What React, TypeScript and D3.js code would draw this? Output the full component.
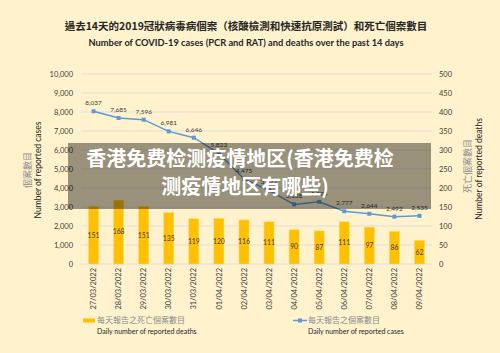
import { useEffect, useRef } from 'react';
import * as d3 from 'd3';

const dates = [
  '27/03/2022', '28/03/2022', '29/03/2022', '30/03/2022', '31/03/2022', '01/04/2022', '02/04/2022',
  '03/04/2022', '04/04/2022', '05/04/2022', '06/04/2022', '07/04/2022', '08/04/2022', '09/04/2022',
];
const cases = [8037, 7685, 7596, 6981, 6646, 5823, 4475, 3877, 3138, 3274, 2777, 2644, 2492, 2535];
const deaths = [151, 168, 151, 135, 119, 120, 116, 111, 90, 87, 111, 97, 86, 62];
const leftTicks = d3.range(0, 10001, 1000);
const rightTicks = d3.range(0, 501, 50);

const FONT = "Lato, 'Noto Sans CJK TC', sans-serif";
const CJK = "'Noto Sans CJK TC', sans-serif";

export default function App() {
  const svgRef = useRef<SVGSVGElement>(null);

  useEffect(() => {
    if (!svgRef.current) return;
    const width = 500;
    const height = 353;
    const svg = d3.select(svgRef.current);
    svg.selectAll('*').remove();
    svg.attr('width', width).attr('height', height).attr('viewBox', `0 0 ${width} ${height}`);

    svg.append('rect').attr('width', width).attr('height', height).attr('fill', '#FFF2CC');

    const x = d3.scaleBand<string>().domain(dates).range([81, 432]).paddingInner(0.6).paddingOuter(0.3);
    const yL = d3.scaleLinear().domain([0, 10000]).range([264, 74]);
    const yR = d3.scaleLinear().domain([0, 500]).range([264, 74]);
    const cx = (d: string) => (x(d) ?? 0) + x.bandwidth() / 2;

    // titles
    svg.append('text').attr('x', 246).attr('y', 30).attr('text-anchor', 'middle')
      .style('font-family', CJK).style('font-size', '10.5px').style('font-weight', 'bold').attr('fill', '#262626')
      .text('過去14天的2019冠狀病毒病個案（核酸檢測和快速抗原測試）和死亡個案數目');
    svg.append('text').attr('x', 246).attr('y', 46).attr('text-anchor', 'middle')
      .style('font-family', FONT).style('font-size', '9.3px').style('font-weight', 'bold').attr('fill', '#262626')
      .text('Number of COVID-19 cases (PCR and RAT) and deaths over the past 14 days');

    // grid
    svg.append('g').selectAll('line').data(leftTicks).join('line')
      .attr('x1', 81).attr('x2', 432)
      .attr('y1', d => yL(d)).attr('y2', d => yL(d))
      .attr('stroke', '#d9d9d9').attr('stroke-width', 0.8);

    // axis labels
    svg.append('g').selectAll('text').data(leftTicks).join('text')
      .attr('x', 73).attr('y', d => yL(d)).attr('dy', '0.35em').attr('text-anchor', 'end')
      .style('font-family', FONT).style('font-size', '7.5px').attr('fill', '#404040')
      .text(d => d3.format(',')(d));
    svg.append('g').selectAll('text').data(rightTicks).join('text')
      .attr('x', 439).attr('y', d => yR(d)).attr('dy', '0.35em').attr('text-anchor', 'start')
      .style('font-family', FONT).style('font-size', '7.5px').attr('fill', '#404040')
      .text(d => String(d));

    // axis titles
    const yTitle = (tx: number, ty: number, txt: string, cjk: boolean) =>
      svg.append('text').attr('transform', `translate(${tx},${ty}) rotate(-90)`).attr('text-anchor', 'middle')
        .attr('dy', '0.35em')
        .style('font-family', cjk ? CJK : FONT).style('font-size', cjk ? '9px' : '8.5px')
        .attr('fill', cjk ? '#8c8c8c' : '#262626').text(txt);
    yTitle(28, 170, '個案數目', true);
    yTitle(38, 170, 'Number of reported cases', false);
    yTitle(468, 166, '死亡個案數目', true);
    yTitle(479, 169, 'Number of reported deaths', false);

    // bars
    svg.append('g').selectAll('rect').data(deaths).join('rect')
      .attr('x', (d, i) => x(dates[i]) ?? 0).attr('width', x.bandwidth())
      .attr('y', d => yR(d)).attr('height', d => yR(0) - yR(d))
      .attr('fill', '#FFC000').attr('stroke', '#FFD966').attr('stroke-width', 0.5);
    svg.append('g').selectAll('text').data(deaths).join('text')
      .attr('x', (d, i) => cx(dates[i])).attr('y', d => (yR(d) + yR(0)) / 2).attr('dy', '0.35em')
      .attr('text-anchor', 'middle')
      .style('font-family', FONT).style('font-size', '6.8px').attr('fill', '#404040')
      .text(d => String(d));

    // line
    const line = d3.line<number>().x((d, i) => cx(dates[i])).y(d => yL(d));
    svg.append('path').datum(cases).attr('d', line)
      .attr('fill', 'none').attr('stroke', '#5B9BD5').attr('stroke-width', 1.5);
    svg.append('g').selectAll('rect').data(cases).join('rect')
      .attr('x', (d, i) => cx(dates[i]) - 2).attr('y', d => yL(d) - 2)
      .attr('width', 4).attr('height', 4).attr('fill', '#5B9BD5');
    svg.append('g').selectAll('text').data(cases).join('text')
      .attr('x', (d, i) => cx(dates[i])).attr('y', d => yL(d) - 6)
      .attr('text-anchor', 'middle')
      .style('font-family', FONT).style('font-size', '6.5px').attr('fill', '#404040')
      .text(d => d3.format(',')(d));

    // x labels
    svg.append('g').selectAll('text').data(dates).join('text')
      .attr('transform', d => `translate(${cx(d)},268) rotate(-90)`)
      .attr('dy', '0.35em').attr('text-anchor', 'end')
      .style('font-family', FONT).style('font-size', '7.5px').attr('fill', '#404040')
      .text(d => d);

    // legend
    svg.append('rect').attr('x', 83).attr('y', 318.5).attr('width', 12).attr('height', 4).attr('fill', '#FFC000');
    svg.append('text').attr('x', 97).attr('y', 320.5).attr('dy', '0.35em')
      .style('font-family', CJK).style('font-size', '8px').attr('fill', '#8c8c8c').text('每天報告之死亡個案數目');
    svg.append('text').attr('x', 97).attr('y', 332).attr('dy', '0.35em')
      .style('font-family', FONT).style('font-size', '7px').attr('fill', '#262626').text('Daily number of reported deaths');
    svg.append('line').attr('x1', 293).attr('x2', 307).attr('y1', 320.5).attr('y2', 320.5)
      .attr('stroke', '#5B9BD5').attr('stroke-width', 1.5);
    svg.append('rect').attr('x', 298).attr('y', 318.5).attr('width', 4).attr('height', 4).attr('fill', '#5B9BD5');
    svg.append('text').attr('x', 308).attr('y', 320.5).attr('dy', '0.35em')
      .style('font-family', CJK).style('font-size', '8px').attr('fill', '#8c8c8c').text('每天報告之個案數目');
    svg.append('text').attr('x', 308).attr('y', 332).attr('dy', '0.35em')
      .style('font-family', FONT).style('font-size', '7px').attr('fill', '#262626').text('Daily number of reported cases');

    // overlay banner
    svg.append('rect').attr('x', 68).attr('y', 143).attr('width', 363).attr('height', 66)
      .attr('fill', '#000').attr('fill-opacity', 0.4);
    const banner = ['香港免费检测疫情地区(香港免费检', '测疫情地区有哪些)'];
    svg.append('g').selectAll('text').data(banner).join('text')
      .attr('x', (d, i) => (i === 0 ? 240 : 245)).attr('y', (d, i) => 159 + i * 28).attr('dy', '0.35em')
      .attr('text-anchor', 'middle')
      .style('font-family', CJK).style('font-size', '20px').style('font-weight', 'bold')
      .attr('fill', '#fff').text(d => d);
  }, []);

  return (
    <div style={{ position: 'absolute', left: 0, top: 0 }}>
      <svg ref={svgRef} style={{ display: 'block' }}></svg>
    </div>
  );
}
